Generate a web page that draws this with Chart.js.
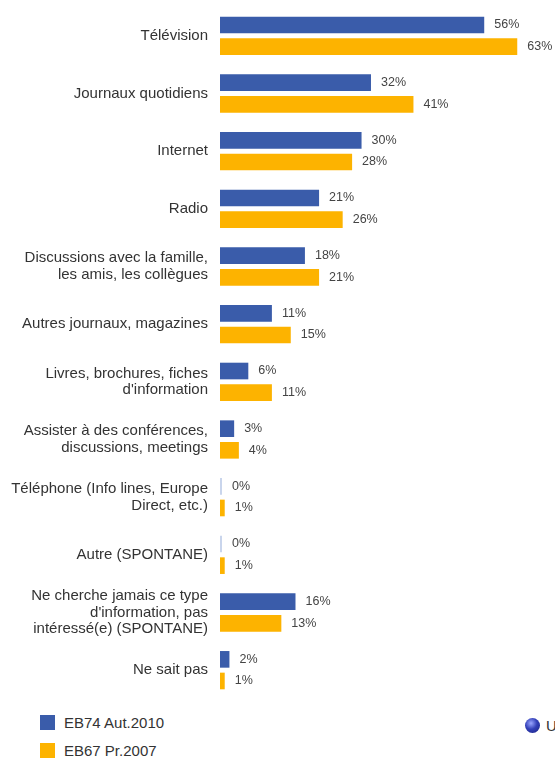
<!DOCTYPE html>
<html>
<head>
<meta charset="utf-8">
<script src="https://cdn.jsdelivr.net/npm/chart.js@4/dist/chart.umd.min.js"></script>
<style>
  html, body { margin: 0; padding: 0; background: #fff; overflow: hidden; }
  body { width: 555px; height: 758px; position: relative; font-family: Arial, "Liberation Sans", sans-serif; color: #333; }
  #wrap { position: absolute; left: 0; top: 0; width: 555px; height: 699px; }
  .key { position: absolute; font-size: 15px; line-height: 16px; white-space: nowrap; }
  .sw { position: absolute; width: 15px; height: 15px; }
  .ball { position: absolute; width: 15px; height: 15px; border-radius: 50%;
          background: radial-gradient(circle at 40% 35%, #9aa6ff 0%, #3340b8 45%, #1a2180 100%); }
</style>
</head>
<body>
<div id="wrap"><canvas id="mediaChart"></canvas></div>

<div class="sw" style="left:40px;top:715px;background:#3a5caa"></div>
<div class="key" style="left:64px;top:715px">EB74 Aut.2010</div>
<div class="sw" style="left:40px;top:743px;background:#fdb300"></div>
<div class="key" style="left:64px;top:743px">EB67 Pr.2007</div>
<div class="ball" style="left:525px;top:718px"></div>
<div class="key" style="left:546px;top:718px">UE27</div>

<script>
const categories = [
  'Télévision',
  'Journaux quotidiens',
  'Internet',
  'Radio',
  ['Discussions avec la famille,', 'les amis, les collègues'],
  'Autres journaux, magazines',
  ['Livres, brochures, fiches', "d'information"],
  ['Assister à des conférences,', 'discussions, meetings'],
  ['Téléphone (Info lines, Europe', 'Direct, etc.)'],
  'Autre (SPONTANE)',
  ['Ne cherche jamais ce type', "d'information, pas", 'intéressé(e) (SPONTANE)'],
  'Ne sait pas'
];
const eb74 = [56, 32, 30, 21, 18, 11, 6, 3, 0, 0, 16, 2];
const eb67 = [63, 41, 28, 26, 21, 15, 11, 4, 1, 1, 13, 1];

// percentage labels to the right of each bar
const valueLabels = {
  id: 'valueLabels',
  afterDatasetsDraw(chart) {
    const ctx = chart.ctx;
    ctx.save();
    ctx.font = '12.5px Arial, "Liberation Sans", sans-serif';
    ctx.fillStyle = '#444';
    ctx.textAlign = 'left';
    ctx.textBaseline = 'middle';
    chart.data.datasets.forEach((ds, i) => {
      chart.getDatasetMeta(i).data.forEach((bar, j) => {
        const end = Math.max(bar.x, bar.base + 2);
        ctx.fillText(ds.data[j] + '%', end + 10, bar.y);
      });
    });
    ctx.restore();
  }
};

new Chart(document.getElementById('mediaChart'), {
  type: 'bar',
  data: {
    labels: categories,
    datasets: [
      {
        label: 'EB74 Aut.2010',
        data: eb74,
        backgroundColor: ctx => ctx.raw === 0 ? '#c9d5ec' : '#3a5caa',
        minBarLength: 2
      },
      {
        label: 'EB67 Pr.2007',
        data: eb67,
        backgroundColor: '#fdb300'
      }
    ]
  },
  options: {
    indexAxis: 'y',
    responsive: true,
    maintainAspectRatio: false,
    animation: false,
    categoryPercentage: 0.75,
    barPercentage: 0.77,
    layout: { padding: { top: 7, left: 0, right: 0, bottom: 0 } },
    scales: {
      x: {
        display: false,
        min: 0,
        max: 71
      },
      y: {
        grid: { display: false, drawTicks: false },
        border: { display: false },
        afterFit(scale) {
          scale.width = 220;
          scale.paddingTop = 0;
          scale.paddingBottom = 0;
        },
        ticks: {
          padding: 12,
          color: '#333',
          font: { family: 'Arial, "Liberation Sans", sans-serif', size: 15, lineHeight: 1.12 }
        }
      }
    },
    plugins: {
      legend: { display: false },
      tooltip: { enabled: false }
    }
  },
  plugins: [valueLabels]
});
</script>
</body>
</html>
